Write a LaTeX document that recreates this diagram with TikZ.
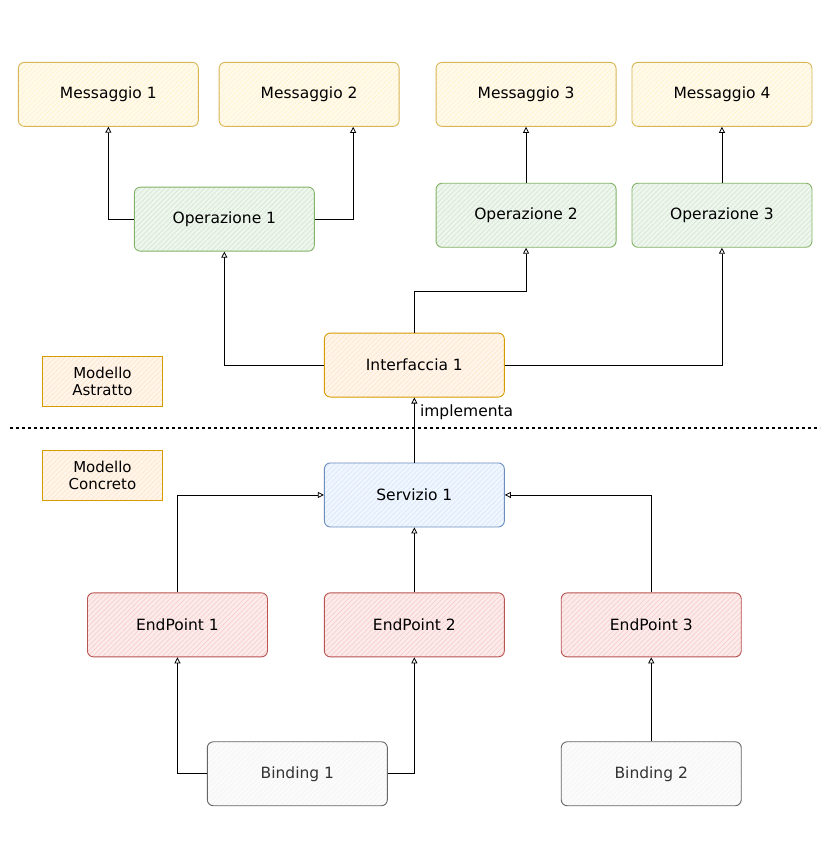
\documentclass[tikz,border=0pt]{standalone}
\usepackage{fontspec}
\setmainfont{DejaVu Sans}
\usetikzlibrary{arrows.meta, positioning, patterns.meta}
\definecolor{yelfill}{HTML}{FFF2CC}\definecolor{yeldraw}{HTML}{D6B656}
\definecolor{grnfill}{HTML}{D5E8D4}\definecolor{grndraw}{HTML}{82B366}
\definecolor{orgfill}{HTML}{FFE6CC}\definecolor{orgdraw}{HTML}{D79B00}
\definecolor{blufill}{HTML}{DAE8FC}\definecolor{bludraw}{HTML}{6C8EBF}
\definecolor{redfill}{HTML}{F8CECC}\definecolor{reddraw}{HTML}{B85450}
\definecolor{gryfill}{HTML}{F5F5F5}\definecolor{grydraw}{HTML}{666666}
\definecolor{grytext}{HTML}{333333}
\tikzset{
  box/.style      = {rectangle, rounded corners=6pt, draw, line width=0.9pt,
                     align=center, minimum width=180pt, minimum height=64pt,
                     font=\fontsize{15.5}{17}\selectfont},
  hatch/.style    = {preaction={fill=#1!40},
                     pattern={Lines[angle=45,distance=3.5pt,line width=0.7pt]},
                     pattern color=#1},
  message/.style  = {box, draw=yeldraw, hatch=yelfill},
  operation/.style= {box, draw=grndraw, hatch=grnfill},
  iface/.style    = {box, draw=orgdraw, hatch=orgfill},
  service/.style  = {box, draw=bludraw, hatch=blufill},
  endpoint/.style = {box, draw=reddraw, hatch=redfill},
  binding/.style  = {box, draw=grydraw, hatch=gryfill, text=grytext},
  level/.style    = {rectangle, draw=orgdraw, line width=0.9pt, hatch=orgfill,
                     align=center, minimum width=120pt, minimum height=50pt,
                     inner sep=1pt, font=\fontsize{15}{17}\selectfont},
  arrow/.style    = {line width=0.8pt, -{Triangle[open,length=6pt,width=6pt]}}
}
\begin{document}
\begin{tikzpicture}[x=1pt, y=1pt, node distance=60pt and 20pt]
  \fill[white] (0,0) rectangle (827,-863);
  \useasboundingbox (0,0) rectangle (827,-863);

  % Messages
  \node (msg1) [message, anchor=north west] at (18,-62) {Messaggio 1};
  \node (msg2) [message, right=20pt of msg1] {Messaggio 2};
  \node (msg3) [message, right=36pt of msg2] {Messaggio 3};
  \node (msg4) [message, right=15pt of msg3] {Messaggio 4};

  % Operations
  \node (op1) [operation, below=60pt of msg1, xshift=116pt] {Operazione 1};
  \node (op2) [operation, below=56pt of msg3] {Operazione 2};
  \node (op3) [operation, below=56pt of msg4] {Operazione 3};

  % Interface and service
  \node (intf) [iface, below=81pt of op1, xshift=190pt] {Interfaccia 1};
  \node (svc)  [service, below=65pt of intf] {Servizio 1};

  % Endpoints
  \node (ep2) [endpoint, below=65pt of svc] {EndPoint 2};
  \node (ep1) [endpoint, left=56pt of ep2]  {EndPoint 1};
  \node (ep3) [endpoint, right=56pt of ep2] {EndPoint 3};

  % Bindings
  \node (bind1) [binding, below=84pt of ep2, xshift=-117pt] {Binding 1};
  \node (bind2) [binding, below=84pt of ep3] {Binding 2};

  % Levels
  \node (absmodel) [level, anchor=north west] at (42,-356) {Modello\\Astratto};
  \node (conmodel) [level, below=43pt of absmodel] {Modello\\Concreto};

  % Separator
  \coordinate (sepL) at (10,-428);
  \coordinate (sepR) at (820,-428);
  \draw[line width=1.5pt, dash pattern=on 3pt off 3pt] (sepL) -- (sepR);

  % Operations to messages
  \draw[arrow] (op1.west) -| (msg1.south);
  \draw[arrow] (op1.east) -| ([xshift=44pt]msg2.south);
  \draw[arrow] (op2) -- (msg3);
  \draw[arrow] (op3) -- (msg4);
  % Interface to operations
  \draw[arrow] (intf.west) -| (op1.south);
  \draw[arrow] (intf.north) -- ++(0,41) -| (op2.south);
  \draw[arrow] (intf.east) -| (op3.south);
  % Service implements interface
  \draw[arrow] (svc) -- node[pos=0.77, right=2pt, font=\fontsize{15.5}{17}\selectfont] {implementa} (intf);
  % Endpoints to service
  \draw[arrow] (ep1.north) |- (svc.west);
  \draw[arrow] (ep2) -- (svc);
  \draw[arrow] (ep3.north) |- (svc.east);
  % Bindings to endpoints
  \draw[arrow] (bind1.west) -| (ep1.south);
  \draw[arrow] (bind1.east) -| (ep2.south);
  \draw[arrow] (bind2) -- (ep3);
\end{tikzpicture}
\end{document}
